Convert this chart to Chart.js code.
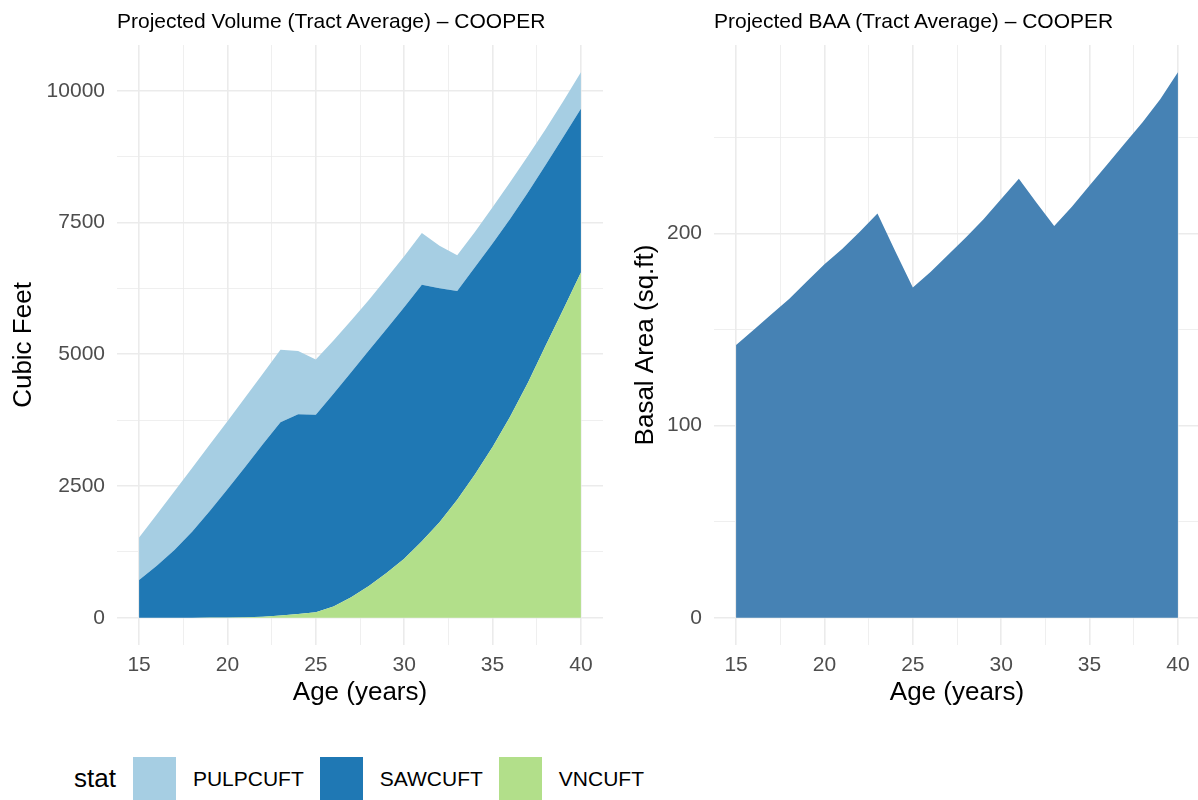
<!DOCTYPE html>
<html>
<head>
<meta charset="utf-8">
<script src="https://cdn.jsdelivr.net/npm/chart.js@4.4.1/dist/chart.umd.min.js"></script>
<style>
  body { margin: 0; background: #fff; font-family: "Liberation Sans", Arial, sans-serif; }
  #wrap { position: relative; width: 1198px; height: 800px; overflow: hidden; }
  canvas { position: absolute; top: 0; }
  .ttl { position: absolute; top: 8px; font-size: 21px; line-height: 26px; color: #000; white-space: nowrap; }
  #legend { position: absolute; left: 74px; top: 757px; height: 43px; display: flex; align-items: center; font-size: 21px; color: #000; }
  #legend .lt { font-size: 26px; margin-right: 17px; }
  #legend .key { width: 43px; height: 43px; }
  #legend .lab { margin-left: 17px; margin-right: 16px; }
</style>
</head>
<body>
<div id="wrap">
  <canvas id="volChart" width="603" height="720" style="left:0"></canvas>
  <canvas id="baaChart" width="597" height="720" style="left:603px"></canvas>
  <div class="ttl" style="left:117px">Projected Volume (Tract Average) – COOPER</div>
  <div class="ttl" style="left:714px">Projected BAA (Tract Average) – COOPER</div>
  <div id="legend"></div>
</div>
<script>
// ages (years)
const ages = [15, 16, 17, 18, 19, 20, 21, 22, 23, 24, 25, 26, 27, 28, 29, 30, 31, 32, 33, 34, 35, 36, 37, 38, 39, 40];

// volume by product, cubic feet
const vnCuft   = [0, 0, 0, 0, 2, 5, 10, 20, 40, 70, 105, 215, 390, 600, 850, 1120, 1450, 1810, 2240, 2720, 3240, 3820, 4460, 5160, 5850, 6550];
const sawCuft  = [718, 985, 1285, 1630, 2023, 2435, 2850, 3270, 3670, 3790, 3745, 4035, 4270, 4470, 4630, 4770, 4870, 4440, 3960, 3930, 3860, 3750, 3610, 3430, 3270, 3110];
const pulpCuft = [802, 975, 1115, 1210, 1260, 1290, 1320, 1340, 1375, 1200, 1050, 1010, 980, 960, 960, 970, 980, 810, 680, 670, 690, 700, 690, 680, 680, 690];

// basal area, sq.ft
const baa = [142, 150, 158, 166, 175, 184, 192, 201, 210.5, 191, 172, 180, 189, 198, 207.5, 218, 228.6, 216, 204, 214, 225, 236, 247, 258, 270, 284];

// axis breaks (major + minor grid)
const xBreaks = [15, 17.5, 20, 22.5, 25, 27.5, 30, 32.5, 35, 37.5, 40];
const volBreaks = [0, 1250, 2500, 3750, 5000, 6250, 7500, 8750, 10000];
const baaBreaks = [0, 50, 100, 150, 200, 250];

const stats = ['PULPCUFT', 'SAWCUFT', 'VNCUFT'];
const statColors = ['#A6CEE3', '#1F78B4', '#B2DF8A'];

const pts = arr => arr.map((v, i) => ({ x: ages[i], y: v }));

function gridOpts(step) {
  return {
    color: '#EBEBEB',
    lineWidth: ctx => (ctx.tick && ctx.tick.value % step === 0) ? 1.6 : 0.8,
    drawTicks: false
  };
}

function makeChart(id, datasets, o) {
  return new Chart(document.getElementById(id), {
    type: 'line',
    data: { datasets: datasets },
    options: {
      responsive: false,
      animation: false,
      devicePixelRatio: 1,
      layout: { padding: { top: 45, right: 0, bottom: 0, left: 0 } },
      elements: { point: { radius: 0 }, line: { borderWidth: 0, tension: 0 } },
      plugins: { legend: { display: false }, tooltip: { enabled: false } },
      scales: {
        x: {
          type: 'linear', min: 13.75, max: 41.25,
          afterBuildTicks: s => { s.ticks = xBreaks.map(v => ({ value: v })); },
          afterFit: s => { s.height = 75; },
          border: { display: false },
          grid: gridOpts(5),
          ticks: {
            autoSkip: false, maxRotation: 0, padding: 8, color: '#4D4D4D',
            font: { family: 'Liberation Sans', size: 21 },
            callback: v => v % 5 === 0 ? v : ''
          },
          title: {
            display: true, text: 'Age (years)', color: '#000',
            font: { family: 'Liberation Sans', size: 26 },
            padding: { top: 0, bottom: 12 }
          }
        },
        y: {
          type: 'linear', min: o.yMin, max: o.yMax, stacked: o.stacked,
          afterBuildTicks: s => { s.ticks = o.breaks.map(v => ({ value: v })); },
          afterFit: s => { s.width = o.yWidth; },
          border: { display: false },
          grid: gridOpts(o.labelStep),
          ticks: {
            autoSkip: false, padding: 12, color: '#4D4D4D',
            font: { family: 'Liberation Sans', size: 21 },
            callback: v => v % o.labelStep === 0 ? v : ''
          },
          title: {
            display: true, text: o.yTitle, color: '#000',
            font: { family: 'Liberation Sans', size: 26 },
            padding: { top: o.titlePad, bottom: 0 }
          }
        }
      }
    }
  });
}

// stacked areas: VNCUFT at the bottom, PULPCUFT on top
makeChart('volChart', [
  { label: 'VNCUFT', data: pts(vnCuft), backgroundColor: statColors[2], fill: 'origin' },
  { label: 'SAWCUFT', data: pts(sawCuft), backgroundColor: statColors[1], fill: '-1' },
  { label: 'PULPCUFT', data: pts(pulpCuft), backgroundColor: statColors[0], fill: '-1' }
], { yMin: -517.5, yMax: 10867.5, breaks: volBreaks, labelStep: 2500, stacked: true,
     yWidth: 117, yTitle: 'Cubic Feet', titlePad: 8 });

makeChart('baaChart', [
  { label: 'BAA', data: pts(baa), backgroundColor: '#4682B4', fill: 'origin' }
], { yMin: -14.2, yMax: 298.2, breaks: baaBreaks, labelStep: 100, stacked: false,
     yWidth: 111, yTitle: 'Basal Area (sq.ft)', titlePad: 27 });

// legend
const leg = document.getElementById('legend');
leg.innerHTML = '<span class="lt">stat</span>' + stats.map((s, i) =>
  '<span class="key" style="background:' + statColors[i] + '"></span><span class="lab">' + s + '</span>').join('');
</script>
</body>
</html>
